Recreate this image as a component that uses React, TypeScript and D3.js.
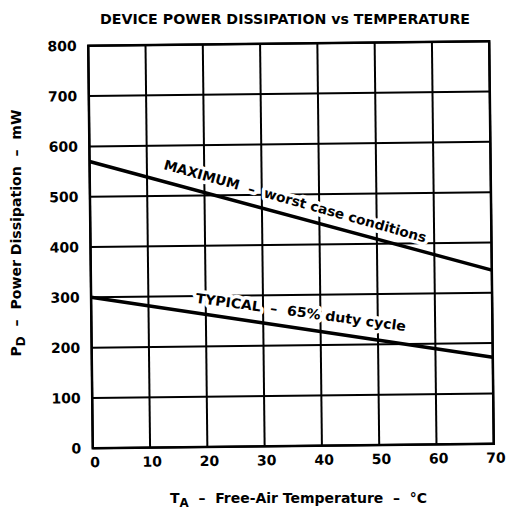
import React from "react";
import * as d3 from "d3";

const temps = [0, 70];
const maxPower = [570, 345];
const typPower = [300, 172];
const xTicks = [0, 10, 20, 30, 40, 50, 60, 70];
const yTicks = [0, 100, 200, 300, 400, 500, 600, 700, 800];
const title = "DEVICE POWER DISSIPATION vs TEMPERATURE";
const maxLabel = "MAXIMUM  –  worst case conditions";
const typLabel = "TYPICAL  –  65% duty cycle";

const FONT = "'DejaVu Sans', sans-serif";

export default function App() {
  const W = 506, H = 511;
  const x = d3.scaleLinear().domain([0, 70]).range([90.5, 491.5]);
  const y = d3.scaleLinear().domain([0, 800]).range([446, 43.5]);
  const line = d3.line<number>().x((_, i) => x(temps[i])).y((d) => y(d));

  const angleOf = (vals: number[]) =>
    (Math.atan2(y(vals[1]) - y(vals[0]), x(temps[1]) - x(temps[0])) * 180) / Math.PI;
  const atX = (vals: number[], t: number) =>
    vals[0] + ((vals[1] - vals[0]) * (t - temps[0])) / (temps[1] - temps[0]);

  const maxT = 12.2, typT = 17.9;
  const maxAng = angleOf(maxPower) + 0.6;
  const typAng = angleOf(typPower) - 0.8;

  return (
    <svg width={W} height={H} style={{ display: "block", position: "absolute", left: 0, top: 0 }} fontFamily={FONT} fontWeight="bold">
      <rect width={W} height={H} fill="#fff" />
      <text x={100} y={24} fontSize={13.5} textLength={370} lengthAdjust="spacingAndGlyphs">{title}</text>
      <g transform="rotate(-0.65, 291, 245)">
        {xTicks.map((t) => (
          <line key={"vx" + t} x1={x(t)} x2={x(t)} y1={y(0)} y2={y(800)} stroke="#000" strokeWidth={2} />
        ))}
        {yTicks.map((t) => (
          <line key={"hy" + t} x1={x(0)} x2={x(70)} y1={y(t)} y2={y(t)} stroke="#000" strokeWidth={2} />
        ))}
        <rect x={x(0)} y={y(800)} width={x(70) - x(0)} height={y(0) - y(800)} fill="none" stroke="#000" strokeWidth={2.5} />
        {yTicks.map((t) => (
          <text key={"yl" + t} x={79} y={y(t) + 5} fontSize={14} textAnchor="end">{t}</text>
        ))}
        {xTicks.map((t) => (
          <text key={"xl" + t} x={x(t) + 2} y={465} fontSize={14} textAnchor="middle">{t}</text>
        ))}
        <g transform={`translate(${x(maxT)},${y(atX(maxPower, maxT))}) rotate(${maxAng})`}>
          <text x={0} y={-12} fontSize={13.5} textLength={272} lengthAdjust="spacingAndGlyphs"
            stroke="#fff" strokeWidth={7} strokeLinejoin="round" style={{ paintOrder: "stroke" }} fill="#000" xmlSpace="preserve">{maxLabel}</text>
        </g>
        <g transform={`translate(${x(typT)},${y(atX(typPower, typT))}) rotate(${typAng})`}>
          <text x={0} y={-10} fontSize={13.5} textLength={212} lengthAdjust="spacingAndGlyphs"
            stroke="#fff" strokeWidth={7} strokeLinejoin="round" style={{ paintOrder: "stroke" }} fill="#000" xmlSpace="preserve">{typLabel}</text>
        </g>
        <path d={line(maxPower) || ""} fill="none" stroke="#000" strokeWidth={3.5} />
        <path d={line(typPower) || ""} fill="none" stroke="#000" strokeWidth={3.5} />
      </g>
      <text transform="translate(21,233) rotate(-90)" textAnchor="middle" fontSize={13.5} textLength={247} lengthAdjust="spacingAndGlyphs" xmlSpace="preserve">
        P<tspan dy={4} fontSize={11.5}>D</tspan><tspan dy={-4}>  –  Power Dissipation  –  mW</tspan>
      </text>
      <text x={170} y={503} fontSize={13.5} textLength={257} lengthAdjust="spacingAndGlyphs" xmlSpace="preserve">
        T<tspan dy={4} fontSize={11.5}>A</tspan><tspan dy={-4}>  –  Free-Air Temperature  –  °C</tspan>
      </text>
    </svg>
  );
}
